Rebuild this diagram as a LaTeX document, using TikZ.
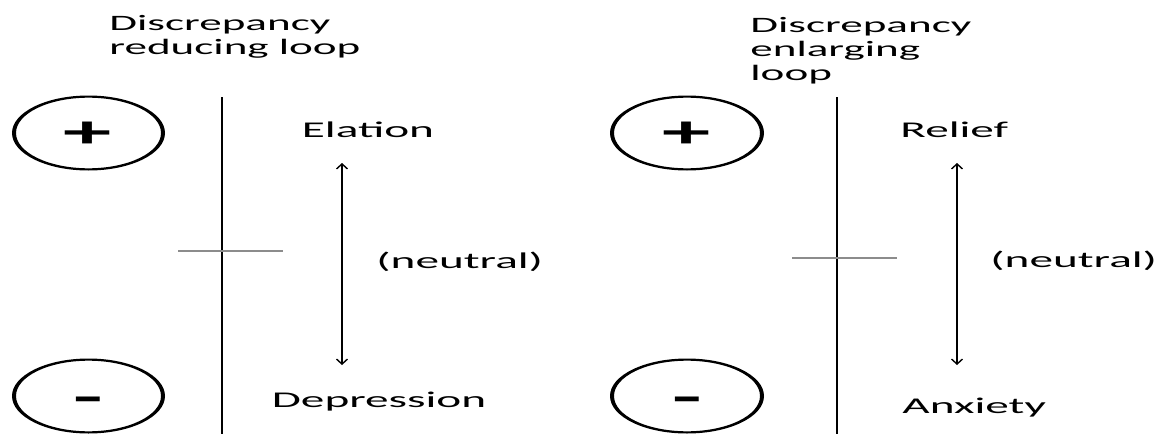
\documentclass[tikz,border=0pt]{standalone}
\usepackage{fontspec}
\setmainfont{Carlito}
\usetikzlibrary{arrows.meta}
\definecolor{midline}{HTML}{8C8C8C}
\begin{document}
\begin{tikzpicture}[x=1pt,y=-1pt,
  lbl/.style={anchor=base west,inner sep=0pt,font=\fontsize{22.5}{24}\selectfont,xscale=2.1},
  ttl/.style={anchor=base west,inner sep=0pt,font=\fontsize{22}{24}\selectfont,xscale=2.05},
  sign/.style={anchor=center,inner sep=0pt,font=\fontsize{46}{50}\bfseries\selectfont,xscale=2.1},
  ring/.style={fill=black,even odd rule},
  axis/.style={line width=2pt},
  midmark/.style={draw=midline,line width=1.5pt},
  scale arrow/.style={line width=1.4pt,{Straight Barb[length=5pt,width=11pt]}-{Straight Barb[length=5pt,width=11pt]}}]
\useasboundingbox (0,0) rectangle (1163,434);

% ---------- discrepancy reducing loop ----------
\node[ttl] (titleL) at (109,30) {\begin{tabular}[t]{@{}l@{}}\fontsize{22}{22.5}\selectfont Discrepancy\\ reducing loop\end{tabular}};
\coordinate (posL) at (88.5,133);
\coordinate (negL) at (88.5,396);
\fill[ring] (posL) ellipse [x radius=76.5pt, y radius=37.5pt] (posL) ellipse [x radius=72.5pt, y radius=35.3pt];
\fill[ring] (negL) ellipse [x radius=76.5pt, y radius=37.5pt] (negL) ellipse [x radius=72.5pt, y radius=35.3pt];
\node[sign] (plusL) at (88,135) {+};
\node[sign] (minusL) at (88,405) {-};
\coordinate (axTopL) at (222,97);
\coordinate (axBotL) at (222,434);
\draw[axis] (axTopL) -- (axBotL);
\coordinate (midAL) at (178,251);
\coordinate (midBL) at (283,251);
\draw[midmark] (midAL) -- (midBL);
\node[lbl] (elation) at (301.5,137) {Elation};
\node[lbl] (neutralL) at (376,268) {(neutral)};
\node[lbl] (depression) at (271.5,407) {Depression};
\coordinate (arTopL) at (342,163);
\coordinate (arBotL) at (342,365);
\draw[scale arrow] (arTopL) -- (arBotL);

% ---------- discrepancy enlarging loop ----------
\node[ttl] (titleR) at (750,32) {\begin{tabular}[t]{@{}l@{}}\fontsize{22}{25}\selectfont Discrepancy\\ enlarging\\ loop\end{tabular}};
\coordinate (posR) at (687,133);
\coordinate (negR) at (687,396);
\fill[ring] (posR) ellipse [x radius=77pt, y radius=37.5pt] (posR) ellipse [x radius=73pt, y radius=35.3pt];
\fill[ring] (negR) ellipse [x radius=77pt, y radius=37.5pt] (negR) ellipse [x radius=73pt, y radius=35.3pt];
\node[sign] (plusR) at (687,135) {+};
\node[sign] (minusR) at (687,405) {-};
\coordinate (axTopR) at (837,97);
\coordinate (axBotR) at (837,434);
\draw[axis] (axTopR) -- (axBotR);
\coordinate (midAR) at (792,258);
\coordinate (midBR) at (897,258);
\draw[midmark] (midAR) -- (midBR);
\node[lbl] (relief) at (900,137) {Relief};
\node[lbl] (neutralR) at (990,267) {(neutral)};
\node[lbl] (anxiety) at (902,413) {Anxiety};
\coordinate (arTopR) at (957,163);
\coordinate (arBotR) at (957,365);
\draw[scale arrow] (arTopR) -- (arBotR);
\end{tikzpicture}
\end{document}
